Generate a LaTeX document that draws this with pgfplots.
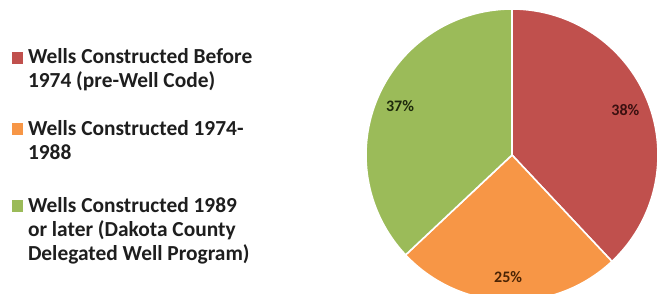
\documentclass[border=0pt]{standalone}
\usepackage{fontspec}
\setmainfont{Carlito}
\usepackage{pgfplots}
\usepackage{pgfplotstable}
\pgfplotsset{compat=1.18}
\definecolor{pieRed}{HTML}{C0504D}
\definecolor{pieOrange}{HTML}{F79646}
\definecolor{pieGreen}{HTML}{9BBB59}
\definecolor{legText}{HTML}{1E1E1E}
\definecolor{labRed}{HTML}{3A1010}
\definecolor{labOrange}{HTML}{4A2405}
\definecolor{labGreen}{HTML}{1E2A0C}

\pgfplotstableread{
share
38
25
37
}\piedata

\begin{document}
\begin{tikzpicture}
\pgfplotstablegetelem{0}{share}\of\piedata \let\va\pgfplotsretval
\pgfplotstablegetelem{1}{share}\of\piedata \let\vb\pgfplotsretval
\pgfplotstablegetelem{2}{share}\of\piedata \let\vc\pgfplotsretval
\pgfmathsetmacro\aA{90}
\pgfmathsetmacro\aB{\aA-3.6*\va}
\pgfmathsetmacro\aC{\aB-3.6*\vb}
\pgfmathsetmacro\aD{\aC-3.6*\vc}
\pgfmathsetmacro\mA{(\aA+\aB)/2}
\pgfmathsetmacro\mB{(\aB+\aC)/2}
\pgfmathsetmacro\mC{(\aC+\aD)/2}
\begin{axis}[
  at={(0,0)}, anchor=south west,
  width=329.5pt, height=147pt, scale only axis,
  xmin=0, xmax=659, ymin=0, ymax=294,
  hide axis, clip=true,
  legend style={at={(axis cs:12,247)}, anchor=north west,
    draw=none, fill=none, inner sep=0pt, outer sep=0pt,
    row sep=1.75pt, column sep=2.5pt,
    font=\bfseries\fontsize{10.7}{12}\selectfont,
    text=legText,
    nodes={inner sep=0pt, outer sep=0pt},
    cells={anchor=base west, align=left}},
  legend image code/.code={\fill[#1,draw=none] (0pt,24pt) rectangle (5.5pt,30pt);},
]
\addplot[fill=pieRed, draw=white, line width=0.8pt, domain=\aB:\aA, samples=90, variable=\t]
  ({512+146*cos(\t)},{139+146*sin(\t)}) -- (axis cs:512,139) -- cycle;
\addlegendentry{\strut Wells Constructed Before\\\strut 1974 (pre-Well Code)\\\strut}
\addplot[fill=pieOrange, draw=white, line width=0.8pt, domain=\aC:\aB, samples=90, variable=\t]
  ({512+146*cos(\t)},{139+146*sin(\t)}) -- (axis cs:512,139) -- cycle;
\addlegendentry{\strut Wells Constructed 1974-\\\strut 1988\\\strut}
\addplot[fill=pieGreen, draw=white, line width=0.8pt, domain=\aD:\aC, samples=90, variable=\t]
  ({512+146*cos(\t)},{139+146*sin(\t)}) -- (axis cs:512,139) -- cycle;
\addlegendentry{\rule{0pt}{11.4pt}Wells Constructed 1989\\\strut or later (Dakota County\\\strut Delegated Well Program)}
\node[font=\bfseries\fontsize{8}{9}\selectfont, text=labRed] at (axis cs:{512+122*cos(\mA)},{139+122*sin(\mA)}) {\va\%};
\node[font=\bfseries\fontsize{8}{9}\selectfont, text=labOrange] at (axis cs:{512+122*cos(\mB)},{139+122*sin(\mB)}) {\vb\%};
\node[font=\bfseries\fontsize{8}{9}\selectfont, text=labGreen] at (axis cs:{512+122*cos(\mC)},{139+122*sin(\mC)}) {\vc\%};
\end{axis}
\pgfresetboundingbox
\path (0,0) rectangle (329.5pt,147pt);
\end{tikzpicture}
\end{document}
